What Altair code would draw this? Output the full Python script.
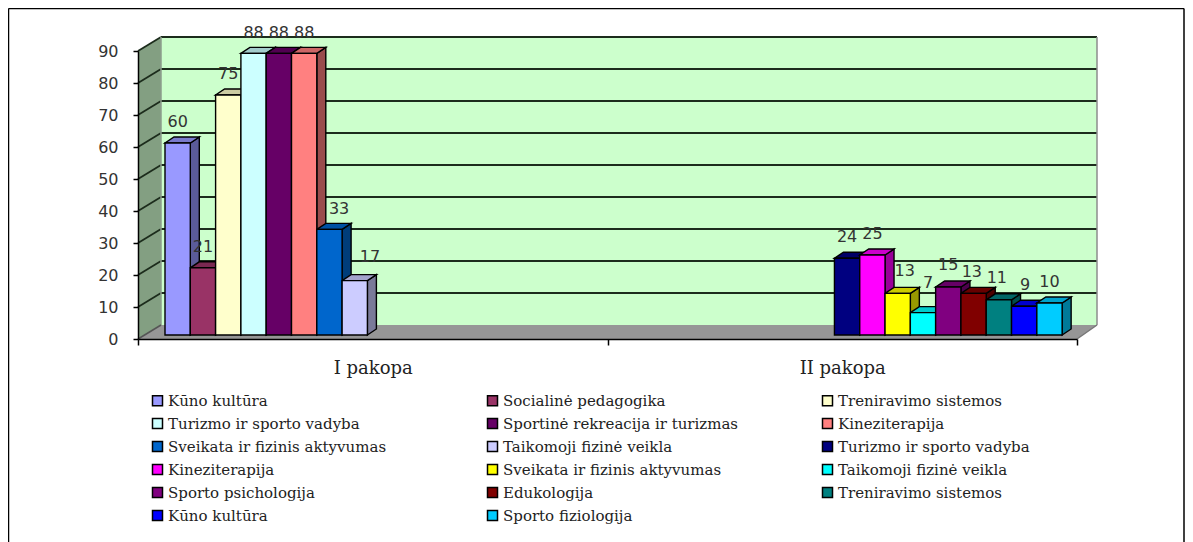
import json
import altair as alt
import pandas as pd

# ---- chart values ----
categories = ["I pakopa", "II pakopa"]
y_ticks = [0, 10, 20, 30, 40, 50, 60, 70, 80, 90]
series_names = [
    "Kūno kultūra", "Socialinė pedagogika", "Treniravimo sistemos",
    "Turizmo ir sporto vadyba", "Sportinė rekreacija ir turizmas", "Kineziterapija",
    "Sveikata ir fizinis aktyvumas", "Taikomoji fizinė veikla",
    "Turizmo ir sporto vadyba", "Kineziterapija", "Sveikata ir fizinis aktyvumas",
    "Taikomoji fizinė veikla", "Sporto psichologija", "Edukologija",
    "Treniravimo sistemos", "Kūno kultūra", "Sporto fiziologija",
]
series_values = [60, 21, 75, 88, 88, 88, 33, 17, 24, 25, 13, 7, 15, 13, 11, 9, 10]
series_colors = [
    "#9999FF", "#993366", "#FFFFCC", "#CCFFFF", "#660066", "#FF8080", "#0066CC", "#CCCCFF",
    "#000080", "#FF00FF", "#FFFF00", "#00FFFF", "#800080", "#800000", "#008080", "#0000FF", "#00CCFF",
]
group_sizes = [8, 9]
group_starts = [0.0, 26.46]
label_dx = [0, 0, 0, 0, 0, 0, 0.38, 0.6, 0, 0, 0.28, 0.2, 0, -0.07, -0.08, 0.04, 0]
label_dy = [0, 0, 0, 0, 0, 0, 0, 1.0, 0, 0, 0.4, 2.8, 0.4, 0.2, 0.2, 0.2, 0.2]

# ---- layout constants (bar-width units on x, axis values on y) ----
W, H = 1177, 534
PX_X = 25.3
PX_Y = 3.2
x_dom = [(8 - 165) / PX_X, (8 + W - 165) / PX_X]
y_dom = [(335 - (8 + H)) / PX_Y, (335 - 8) / PX_Y]
xs = alt.Scale(domain=x_dom, range=[0, W], nice=False, zero=False)
ys = alt.Scale(domain=y_dom, range=[H, 0], nice=False, zero=False)
U_AX_L, U_AX_R = (138 - 165) / PX_X, (1077 - 165) / PX_X
U_BK_L, U_BK_R = (161 - 165) / PX_X, (1097 - 165) / PX_X
V_AX, V_BK = -1.25, 3.125
BAR_DX, BAR_DY = 9 / PX_X, 6 / PX_Y
LABEL_LIFT = 6.5


def shade(hex_color, k):
    r, g, b = (int(hex_color[i:i + 2], 16) for i in (1, 3, 5))
    return "#%02x%02x%02x" % (int(r * k), int(g * k), int(b * k))


walls, sides, fronts, labels, thin, thick = [], [], [], [], [], []


def add_poly(rows, pid, color, us, los, his, **extra):
    for u, lo, hi in zip(us, los, his):
        rows.append(dict(pid=pid, u=u, lo=lo, hi=hi, c=color, **extra))


def add_line(rows, lid, color, pts):
    for u, v in pts:
        rows.append(dict(lid=lid, u=u, v=v, c=color))


# walls and floor
add_poly(walls, 0, "#CCFFCC", [U_BK_L, U_BK_R], [V_BK, V_BK], [90 + V_BK, 90 + V_BK])
add_poly(walls, 1, "#839F82", [U_AX_L, U_BK_L], [V_AX, V_BK], [90 + V_AX, 90 + V_BK])
add_poly(walls, 2, "#969696", [U_AX_L, U_BK_L, U_AX_R, U_BK_R],
         [V_AX, V_AX, V_AX, V_BK], [V_AX, V_BK, V_BK, V_BK])

# gridlines
for t in y_ticks[1:]:
    add_line(thick, f"b{t}", "#1c2c1c", [(U_BK_L, t + V_BK), (U_BK_R, t + V_BK)])
    add_line(thick, f"l{t}", "#1c2c1c", [(U_AX_L, t + V_AX), (U_BK_L, t + V_BK)])
add_line(thin, "wr", "#8c8c8c", [(U_BK_R, V_BK), (U_BK_R, 90 + V_BK)])
add_line(thin, "wl", "#8c9c8c", [(U_BK_L, V_BK), (U_BK_L, 90 + V_BK)])
add_line(thin, "fl", "#555555", [(U_AX_L, V_AX), (U_BK_L, V_BK)])
add_line(thin, "fr", "#777777", [(U_AX_R, V_AX), (U_BK_R, V_BK)])

# page frame
fl = x_dom[0] + 0.5 / PX_X
fr = x_dom[1] - 1.0 / PX_X
ft = y_dom[1] - 0.5 / PX_Y
add_line(thin, "f1", "#000000", [(fl, y_dom[0]), (fl, ft)])
add_line(thin, "f2", "#000000", [(fl, ft), (fr, ft)])
add_line(thin, "f3", "#000000", [(fr, y_dom[0]), (fr, ft)])

# bars
i = 0
pid = 0
ids = [f"s{k:02d}" for k in range(len(series_values))]
for start, n in zip(group_starts, group_sizes):
    for j in range(n):
        v, col = series_values[i], series_colors[i]
        u0, u1 = start + j, start + j + 1
        add_poly(sides, pid, shade(col, 0.6), [u1, u1 + BAR_DX], [0, BAR_DY], [v, v + BAR_DY])
        pid += 1
        add_poly(sides, pid, shade(col, 0.8), [u0, u0 + BAR_DX, u1, u1 + BAR_DX],
                 [v, v, v, v + BAR_DY], [v, v + BAR_DY, v + BAR_DY, v + BAR_DY])
        pid += 1
        add_poly(fronts, i, col, [u0, u1], [0, 0], [v, v], sid=ids[i])
        labels.append(dict(u=(u0 + u1) / 2 + label_dx[i], v=v + LABEL_LIFT + label_dy[i], t=str(v)))
        i += 1

X = alt.X("u:Q", scale=xs, axis=None)
Y = alt.Y("lo:Q", scale=ys, axis=None)
Yl = alt.Y("v:Q", scale=ys, axis=None)
identity = alt.Color("c:N", scale=None)

wall_layer = alt.Chart(pd.DataFrame(walls)).mark_area().encode(
    x=X, y=Y, y2="hi:Q", detail="pid:N", color=identity)
thick_layer = alt.Chart(pd.DataFrame(thick)).mark_line(strokeWidth=1.8).encode(
    x=X, y=Yl, detail="lid:N", color=identity)
thin_layer = alt.Chart(pd.DataFrame(thin)).mark_line(strokeWidth=1.5).encode(
    x=X, y=Yl, detail="lid:N", color=identity)
side_layer = alt.Chart(pd.DataFrame(sides)).mark_area(stroke="#000000", strokeWidth=1.4).encode(
    x=X, y=Y, y2="hi:Q", detail="pid:N", color=identity)
label_expr = json.dumps(dict(zip(ids, series_names)), ensure_ascii=False) + "[datum.value]"
front_layer = alt.Chart(pd.DataFrame(fronts)).mark_area(stroke="#000000", strokeWidth=1.4).encode(
    x=X, y=Y, y2="hi:Q", detail="pid:N",
    fill=alt.Fill("sid:N", scale=alt.Scale(domain=ids, range=series_colors),
                  legend=alt.Legend(
                      title=None, orient="none", legendX=142, legendY=385, columns=3,
                      direction="horizontal", gridAlign="all", columnPadding=80, rowPadding=6,
                      symbolType="square", symbolSize=100, symbolStrokeColor="#000000",
                      symbolStrokeWidth=1.5, labelFont="DejaVu Serif", labelFontSize=15,
                      labelColor="#222222", labelLimit=400, labelOffset=3,
                      labelExpr=label_expr)))
text_layer = alt.Chart(pd.DataFrame(labels)).mark_text(
    font="DejaVu Sans", fontSize=16, color="#333333", baseline="middle", align="center"
).encode(x=X, y=Yl, text="t:N")

main = alt.layer(wall_layer, thick_layer, thin_layer, side_layer, front_layer, text_layer)

axis_rows = [dict(cat=categories[k % 2], tick=t) for k, t in enumerate(y_ticks)]
axis_layer = alt.Chart(pd.DataFrame(axis_rows)).mark_point(opacity=0).encode(
    x=alt.X("cat:N",
            scale=alt.Scale(type="band", domain=categories, range=[130, 1069],
                            paddingInner=0, paddingOuter=0),
            axis=alt.Axis(title=None, orient="bottom", offset=331 - H, tickBand="extent", zindex=1,
                          labelAngle=0, labelFont="DejaVu Serif", labelFontSize=18,
                          labelColor="#222222", labelPadding=14, tickSize=6, tickColor="#000000",
                          tickWidth=1.5, domainColor="#000000", domainWidth=1.5, grid=False)),
    y=alt.Y("tick:Q", scale=alt.Scale(domain=[0, 90], range=[331, 43], nice=False, zero=False),
            axis=alt.Axis(title=None, orient="left", offset=-130, values=y_ticks, zindex=1,
                          labelFont="DejaVu Sans", labelFontSize=16, labelColor="#333333",
                          labelPadding=15, tickSize=5, tickColor="#000000", tickWidth=1.5,
                          domainColor="#000000", domainWidth=1.5, grid=False)),
)

chart = alt.layer(main, axis_layer).resolve_scale(x="independent", y="independent").properties(
    width=W, height=H, padding=0, background="white",
    autosize=alt.AutoSizeParams(type="none"),
).configure_view(stroke=None)

chart.save("out.html", embed_options={"renderer": "svg", "actions": False})
